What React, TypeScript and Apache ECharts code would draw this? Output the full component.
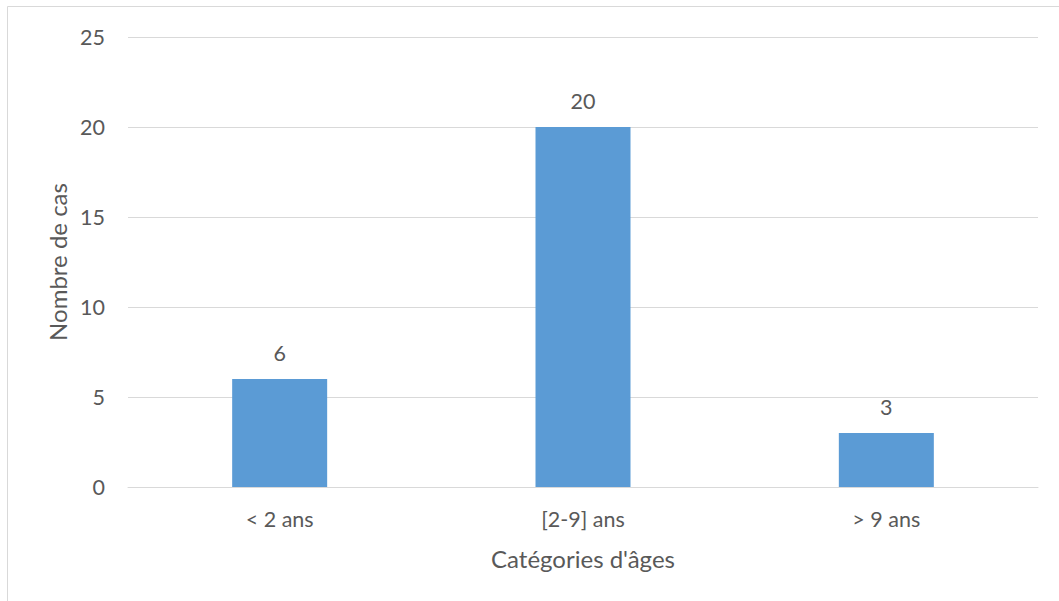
import React, { useEffect, useRef } from "react";
import * as echarts from "echarts";

const categories = ["< 2 ans", "[2-9] ans", "> 9 ans"];
const caseCounts = [6, 20, 3];
const yTicks = { min: 0, max: 25, interval: 5 };

const TEXT = "#595959";
const GRID = "#D9D9D9";
const BAR = "#5B9BD5";
const FONT = "Lato, 'Open Sans', sans-serif";

export default function App() {
  const ref = useRef<HTMLDivElement>(null);

  useEffect(() => {
    if (!ref.current) return;
    const chart = echarts.init(ref.current, undefined, { renderer: "svg" });
    chart.setOption({
      animation: false,
      backgroundColor: "#ffffff",
      textStyle: { fontFamily: FONT },
      graphic: [
        {
          type: "rect",
          shape: { x: 7.5, y: 6.5, width: 1060, height: 600 },
          style: { fill: "none", stroke: GRID, lineWidth: 1 },
          silent: true,
        },
      ],
      grid: { left: 128, right: 21, top: 37, bottom: 114, containLabel: false },
      xAxis: {
        type: "category",
        data: categories,
        name: "Catégories d'âges",
        nameLocation: "middle",
        nameGap: 59,
        nameTextStyle: { color: TEXT, fontSize: 24, fontFamily: FONT },
        axisLine: { show: true, lineStyle: { color: GRID, width: 1 } },
        axisTick: { show: false },
        axisLabel: { color: TEXT, fontSize: 21.5, margin: 21, fontFamily: FONT },
      },
      yAxis: {
        type: "value",
        min: yTicks.min,
        max: yTicks.max,
        interval: yTicks.interval,
        name: "Nombre de cas",
        nameLocation: "middle",
        nameGap: 58,
        nameTextStyle: { color: TEXT, fontSize: 24, fontFamily: FONT },
        axisLine: { show: false },
        axisTick: { show: false },
        axisLabel: { color: TEXT, fontSize: 21.5, margin: 23, fontFamily: FONT },
        splitLine: { show: true, lineStyle: { color: GRID, width: 1 } },
      },
      series: [
        {
          type: "bar",
          data: caseCounts,
          barWidth: 95,
          itemStyle: { color: BAR },
          label: {
            show: true,
            position: "top",
            distance: 15,
            color: TEXT,
            fontSize: 21.5,
            fontFamily: FONT,
          },
        },
      ],
    });
    return () => chart.dispose();
  }, []);

  return (
    <div
      ref={ref}
      style={{ position: "absolute", left: 0, top: 0, width: 1059, height: 601 }}
    />
  );
}
